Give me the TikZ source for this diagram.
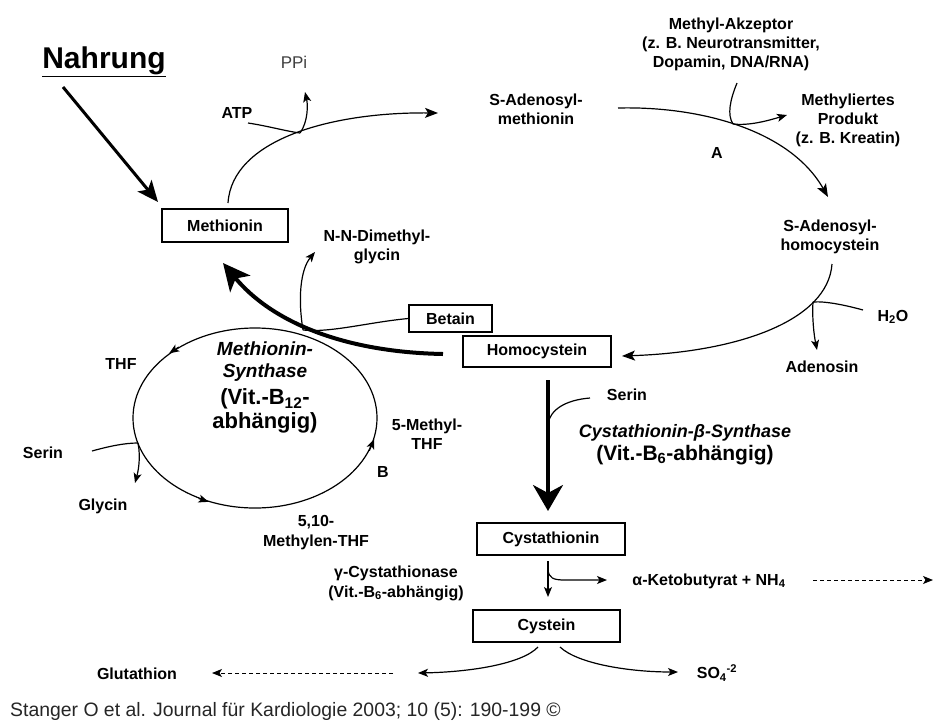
\documentclass[tikz,border=0pt]{standalone}
\usepackage{fontspec}
\setmainfont{Liberation Sans}
\usetikzlibrary{arrows.meta,shapes.geometric}
\begin{document}
\begin{tikzpicture}[x=1pt,y=-1pt]
\tikzset{
 lbl/.style={font=\bfseries\fontsize{16}{19}\selectfont, align=center, inner sep=0pt},
 boxnode/.style={draw, line width=1.2pt, font=\bfseries\fontsize{16}{19}\selectfont, inner sep=0pt},
 plainline/.style={line width=1.2pt},
 tip/.style={line width=1.2pt, -{Stealth[length=13pt,width=10pt,inset=3pt]}},
 smalltip/.style={line width=1.2pt, -{Stealth[length=10pt,width=8pt,inset=2.5pt]}},
 bigtip/.style={line width=4pt, -{Stealth[length=27pt,width=26pt,inset=7pt]}},
 dashtip/.style={line width=1pt, dash pattern=on 4pt off 3pt, -{Stealth[length=10pt,width=8pt,inset=2.5pt]}},
}
\useasboundingbox (0,0) rectangle (935,724);
\fill[white] (0,0) rectangle (935,724);

% boxes
\node[boxnode, minimum width=126pt, minimum height=33pt] (methionin) at (225,225.5) {Methionin};
\node[boxnode, minimum width=83pt, minimum height=27pt] (betain) at (450.5,318.5) {Betain};
\node[boxnode, minimum width=148pt, minimum height=31pt] (homocys) at (537,351.5) {Homocystein};
\node[boxnode, minimum width=148pt, minimum height=32pt] (cysthionin) at (551,539) {Cystathionin};
\node[boxnode, minimum width=147pt, minimum height=32pt] (cystein) at (546.5,626) {Cystein};

% labels
\node[lbl, font=\bfseries\fontsize{30}{33}\selectfont] (nahrung) at (104,62) {\underline{Nahrung}};
\node[lbl, font=\fontsize{17}{20}\selectfont, text=black!75] (ppi) at (294,62) {PPi};
\node[lbl] (atp) at (237,113) {ATP};
\node[lbl] (sam) at (536,109) {S-Adenosyl-\\methionin};
\node[lbl] (macc) at (731,44) {Methyl-Akzeptor\\(z. B. Neurotransmitter,\\Dopamin, DNA/RNA)};
\node[lbl] (mprod) at (848,120) {Methyliertes\\Produkt\\(z. B. Kreatin)};
\node[lbl] (enzA) at (717,153) {A};
\node[lbl] (sah) at (830,237) {S-Adenosyl-\\homocystein};
\node[lbl] (h2o) at (893,317) {H\textsubscript{2}O};
\node[lbl] (adenosin) at (822,367) {Adenosin};
\node[lbl] (nnd) at (377,247) {N-N-Dimethyl-\\glycin};
\node[lbl] (thf) at (121,364) {THF};
\node[lbl, font=\bfseries\itshape\fontsize{19}{22}\selectfont] (msyn) at (265,362) {Methionin-\\Synthase};
\node[lbl, font=\bfseries\fontsize{22}{24}\selectfont] (msynvit) at (265,411) {(Vit.-B\textsubscript{12}-\\abhängig)};
\node[lbl] (mthf) at (427,434) {5-Methyl-\\THF};
\node[lbl] (enzB) at (383,472) {B};
\node[lbl] (serinL) at (43,453) {Serin};
\node[lbl] (glycin) at (103,506) {Glycin};
\node[lbl, font=\bfseries\fontsize{16}{20}\selectfont] (methylen) at (316,533) {5,10-\\Methylen-THF};
\node[lbl] (serinR) at (627,395) {Serin};
\node[lbl, font=\bfseries\itshape\fontsize{18}{21}\selectfont] (cbs) at (685,433) {Cystathionin-β-Synthase};
\node[lbl, font=\bfseries\fontsize{21}{24}\selectfont] (cbsvit) at (685,455) {(Vit.-B\textsubscript{6}-abhängig)};
\node[lbl, font=\bfseries\fontsize{16}{20}\selectfont] (gcys) at (396,583) {γ-Cystathionase\\(Vit.-B\textsubscript{6}-abhängig)};
\node[lbl] (keto) at (709,581) {α-Ketobutyrat + NH\textsubscript{4}};
\node[lbl] (glut) at (137,674) {Glutathion};
\node[lbl] (so4) at (717,673) {SO\textsubscript{4}\textsuperscript{-2}};
\node[anchor=west, inner sep=0pt, font=\fontsize{19.4}{22}\selectfont, text=black!85] (ref) at (10,711) {Stanger O et al. Journal für Kardiologie 2003; 10 (5): 190-199 ©};

% Nahrung arrow
\coordinate (n1) at (63,87);
\coordinate (n2) at (158,202);
\draw[line width=3pt, -{Stealth[length=21pt,width=18pt,inset=5pt]}] (n1) -- (n2);

% Methionin -> SAM
\coordinate (m0) at (228,203);
\coordinate (atpjoin) at (300,133);
\coordinate (m1) at (438,113);
\coordinate (atp0) at (248,123);
\coordinate (ppi0) at (305,92);
\draw[tip] (m0) .. controls (232,140) and (330,112) .. (m1);
\draw[plainline] (atp0) .. controls (268,126) and (285,131) .. (atpjoin);
\draw[smalltip] (atpjoin) .. controls (308,122) and (308,105) .. (ppi0);

% SAM -> SAH
\coordinate (s0) at (618,108);
\coordinate (s1) at (828,197);
\coordinate (acc0) at (737,83);
\coordinate (accj) at (733,124);
\coordinate (prod1) at (787,115);
\draw[tip] (s0) .. controls (700,106) and (790,130) .. (s1);
\draw[plainline] (acc0) .. controls (730,100) and (727,115) .. (accj);
\draw[smalltip] (accj) .. controls (750,126) and (770,120) .. (prod1);

% SAH -> Homocystein
\coordinate (h0) at (832,264);
\coordinate (h1) at (622,356);
\coordinate (w0) at (863,310);
\coordinate (wj) at (813,302);
\coordinate (ad1) at (817,350);
\draw[tip] (h0) .. controls (828,320) and (740,352) .. (h1);
\draw[plainline] (w0) .. controls (845,305) and (825,301) .. (wj);
\draw[smalltip] (wj) .. controls (812,318) and (814,335) .. (ad1);

% Homocystein -> Methionin (thick)
\coordinate (t0) at (443,354);
\coordinate (t1) at (223,263);
\draw[bigtip] (t0) .. controls (340,352) and (270,320) .. (t1);

% Betain -> N-N-Dimethylglycin
\coordinate (bj) at (303,330);
\coordinate (nnd1) at (315,252);
\draw[plainline] (betain.west) .. controls (370,322) and (330,333) .. (bj);
\draw[smalltip] (bj) .. controls (298,300) and (300,270) .. (nnd1);

% folate cycle
\node[draw, ellipse, line width=1.2pt, minimum width=244pt, minimum height=180pt, inner sep=0pt] (cyc) at (255,418) {};
\draw[smalltip] (cyc.137) -- (cyc.143);
\draw[smalltip] (cyc.235) -- (cyc.241);
\draw[smalltip] (cyc.344) -- (cyc.350);

\coordinate (sl0) at (92,451);
\coordinate (slj) at (138,443);
\coordinate (gly1) at (135,483);
\draw[plainline] (sl0) .. controls (110,446) and (125,443) .. (slj);
\draw[smalltip] (slj) .. controls (141,458) and (138,472) .. (gly1);

% Homocystein -> Cystathionin
\coordinate (c0) at (548,380);
\coordinate (c1) at (548,511);
\draw[line width=3.5pt, -{Stealth[length=26pt,width=30pt,inset=8pt]}] (c0) -- (c1);
\coordinate (sr0) at (590,398);
\coordinate (srj) at (548,424);
\draw[plainline] (sr0) .. controls (565,400) and (550,410) .. (srj);

% Cystathionin -> Cystein
\coordinate (cy0) at (548,561);
\coordinate (cy1) at (548,597);
\draw[smalltip] (cy0) -- (cy1);
\coordinate (kj) at (548,570);
\coordinate (k1) at (607,580);
\draw[smalltip] (kj) .. controls (549,578) and (553,580) .. (565,580) -- (k1);
\coordinate (kd0) at (813,580);
\coordinate (kd1) at (933,580);
\draw[dashtip] (kd0) -- (kd1);

% Cystein branches
\coordinate (cl0) at (538,647);
\coordinate (cl1) at (418,673);
\coordinate (cr0) at (560,647);
\coordinate (cr1) at (678,672);
\draw[smalltip] (cl0) .. controls (522,664) and (470,672) .. (cl1);
\draw[smalltip] (cr0) .. controls (578,664) and (630,672) .. (cr1);
\coordinate (gd0) at (393,673);
\coordinate (gd1) at (212,673);
\draw[dashtip] (gd0) -- (gd1);
\end{tikzpicture}
\end{document}
